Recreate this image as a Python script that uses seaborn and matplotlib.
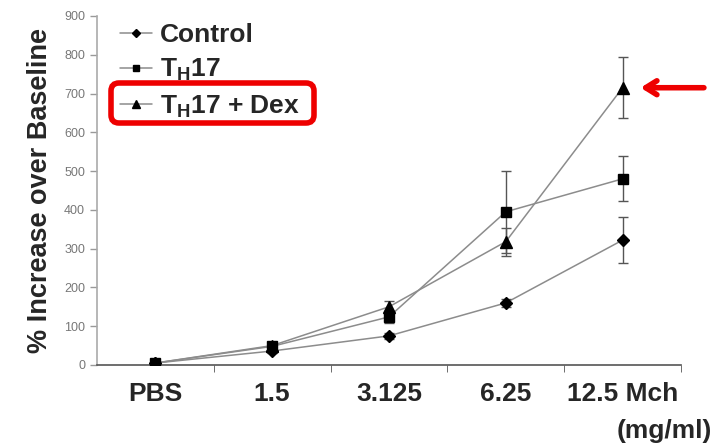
import matplotlib.pyplot as plt
import numpy as np
import seaborn as sns
import pandas as pd
from matplotlib.lines import Line2D
from matplotlib.patches import FancyBboxPatch

doses = ['PBS', '1.5', '3.125', '6.25', '12.5 Mch']
control = [5, 36, 75, 160, 322]
control_err = [3, 6, 8, 10, 60]
th17 = [5, 48, 124, 395, 480]
th17_err = [3, 8, 15, 105, 58]
dex = [5, 50, 150, 318, 715]
dex_err = [3, 8, 15, 36, 78]

groups = ['Control', 'TH17', 'TH17 + Dex']
df = pd.DataFrame({
    'Dose': doses * 3,
    'Value': control + th17 + dex,
    'Err': control_err + th17_err + dex_err,
    'Group': np.repeat(groups, len(doses)),
})

sns.set_style('white')
plt.rcParams['font.family'] = ['Liberation Sans', 'DejaVu Sans']
plt.rcParams['mathtext.fontset'] = 'custom'
plt.rcParams['mathtext.rm'] = 'Liberation Sans'
plt.rcParams['mathtext.bf'] = 'Liberation Sans:bold'

fig = plt.figure(figsize=(7.21, 4.44), dpi=100)
ax = fig.add_axes([0.1345, 0.178, 0.81, 0.786])

line_col = '#8c8c8c'
markers = {'Control': 'D', 'TH17': 's', 'TH17 + Dex': '^'}
msizes = {'Control': 6, 'TH17': 7, 'TH17 + Dex': 8}

sns.lineplot(data=df, x='Dose', y='Value', hue='Group', palette=[line_col] * 3,
             linewidth=1.1, legend=False, ax=ax, sort=False)
for g in groups:
    sub = df[df['Group'] == g]
    xs = np.arange(len(doses))
    ax.errorbar(xs, sub['Value'], yerr=sub['Err'], fmt='none', ecolor='#555555',
                elinewidth=1.0, capsize=3.5, capthick=1.0, zorder=2)
    ax.plot(xs, sub['Value'], linestyle='none', marker=markers[g],
            markersize=msizes[g], color='black', zorder=3)

ax.set_xlim(-0.5, 4.5)
ax.set_ylim(0, 900)
ax.set_yticks(range(0, 901, 100))
ax.tick_params(axis='y', labelsize=9, labelcolor='#777777', color='#999999',
               length=5, width=1, direction='out', left=True)
ax.set_xticks(range(len(doses)))
ax.set_xticklabels(doses, fontsize=19, fontweight='bold')
ax.set_xticks([0.5, 1.5, 2.5, 3.5, 4.5], minor=True)
ax.tick_params(axis='x', which='major', length=0, pad=12)
ax.tick_params(axis='x', which='minor', length=5, color='#555555', bottom=True)
for s in ['top', 'right']:
    ax.spines[s].set_visible(False)
ax.spines['left'].set_color('#aaaaaa')
ax.spines['bottom'].set_color('#555555')
ax.spines['left'].set_linewidth(1.2)
ax.spines['bottom'].set_linewidth(1.2)

ax.set_xlabel('')
ax.set_ylabel('% Increase over Baseline', fontsize=19.5, fontweight='bold', labelpad=8)
fig.text(0.988, 0.03, '(mg/ml)', fontsize=19, fontweight='bold', ha='right', va='center')

handles = [Line2D([], [], color=line_col, linewidth=1.1, marker=markers[g],
                  markersize=msizes[g] - 2, markerfacecolor='black',
                  markeredgecolor='black') for g in groups]
labels = ['Control', r'T$_\mathbf{H}$17', r'T$_\mathbf{H}$17 + Dex']
leg = ax.legend(handles, labels, loc='upper left',
                bbox_to_anchor=(120 / 721, 1 - 23 / 444), bbox_transform=fig.transFigure,
                frameon=False, prop={'size': 19, 'weight': 'bold'},
                handlelength=1.2, handletextpad=0.3, labelspacing=0.37,
                borderpad=0, borderaxespad=0)

# red highlight box around the third legend entry
box = FancyBboxPatch((111, 321), 203, 40, boxstyle='round,pad=0,rounding_size=8',
                     transform=None, fill=False, edgecolor='#ee0000', linewidth=4,
                     zorder=5)
fig.patches.append(box)

# red arrow pointing to the TH17 + Dex peak
ax.annotate('', xy=(4.13, 715), xytext=(4.72, 715),
            arrowprops=dict(arrowstyle='->,head_length=0.8,head_width=0.5',
                            color='#ee0000', lw=4), annotation_clip=False)

fig.savefig('out.png', dpi=100)
